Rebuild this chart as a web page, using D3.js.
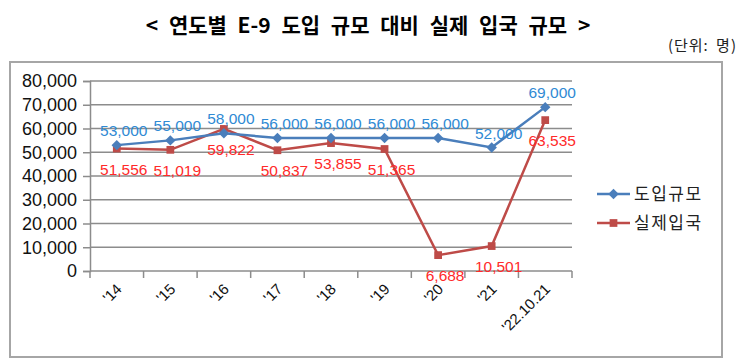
<!DOCTYPE html>
<html>
<head>
<meta charset="utf-8">
<script src="https://cdn.jsdelivr.net/npm/d3@7"></script>
<style>
  body { margin: 0; background: #fff; }
  svg { display: block; }
</style>
</head>
<body>
<div id="chart"></div>
<script>
let years = ["'14", "'15", "'16", "'17", "'18", "'19", "'20", "'21", "'22.10.21"];
let planned = [53000, 55000, 58000, 56000, 56000, 56000, 56000, 52000, 69000];
let actual = [51556, 51019, 59822, 50837, 53855, 51365, 6688, 10501, 63535];
let seriesNames = ["도입규모", "실제입국"];
let yTicks = [0, 10000, 20000, 30000, 40000, 50000, 60000, 70000, 80000];

let width = 745, height = 364;
let plotLeft = 90, plotRight = 572, plotTop = 81, plotBottom = 271;
let blue = "#4a7ebb", red = "#be4b48";
let blueText = "#2f8ad4", redText = "#ff2a2a";
let numFont = "'Liberation Sans', Arial, sans-serif";
let krFont = "'Noto Sans CJK KR', 'Noto Sans', sans-serif";

let svg = d3.select("#chart").append("svg")
    .attr("width", width)
    .attr("height", height);

// title + unit
svg.append("text")
    .attr("x", 368).attr("y", 33)
    .attr("text-anchor", "middle")
    .style("font-family", krFont)
    .style("font-weight", "bold")
    .style("font-size", "21px")
    .style("word-spacing", "6px")
    .text("< 연도별 E-9 도입 규모 대비 실제 입국 규모 >");

svg.append("text")
    .attr("x", 737).attr("y", 51)
    .attr("text-anchor", "end")
    .style("font-family", krFont)
    .style("font-size", "15px")
    .style("letter-spacing", "1px")
    .style("word-spacing", "3px")
    .style("fill", "#222")
    .text("(단위: 명)");

// outer frame
svg.append("rect")
    .attr("x", 10).attr("y", 62)
    .attr("width", 712).attr("height", 295)
    .style("fill", "none")
    .style("stroke", "#a6a6a6")
    .style("stroke-width", 2);

let x = d3.scaleBand().domain(years).range([plotLeft, plotRight]);
let y = d3.scaleLinear().domain([0, 80000]).range([plotBottom, plotTop]);
let cx = d => x(d) + x.bandwidth() / 2;

// gridlines
svg.selectAll("line.grid")
    .data(yTicks.slice(1))
    .enter().append("line")
    .attr("class", "grid")
    .attr("x1", plotLeft).attr("x2", plotRight)
    .attr("y1", d => y(d)).attr("y2", d => y(d))
    .style("stroke", "#8c8c8c")
    .style("stroke-width", 1.5);

// y axis
let yAxis = svg.append("g")
    .attr("transform", `translate(${plotLeft},0)`)
    .call(d3.axisLeft(y).tickValues(yTicks).tickSize(7).tickPadding(6).tickFormat(d3.format(",")));
yAxis.selectAll("path, line").style("stroke", "#8c8c8c").style("stroke-width", 1.5);
yAxis.selectAll("text")
    .style("font-family", numFont)
    .style("font-size", "18px")
    .style("fill", "#111");

// x axis with ticks between categories
let xAxis = svg.append("g")
    .attr("transform", `translate(0,${plotBottom})`);
xAxis.append("line")
    .attr("x1", plotLeft).attr("x2", plotRight)
    .style("stroke", "#8c8c8c").style("stroke-width", 1.5);
xAxis.selectAll("line.tick")
    .data(years.concat(["end"]))
    .enter().append("line")
    .attr("class", "tick")
    .attr("x1", (d, i) => plotLeft + i * x.step())
    .attr("x2", (d, i) => plotLeft + i * x.step())
    .attr("y1", 0).attr("y2", 7)
    .style("stroke", "#8c8c8c").style("stroke-width", 1.5);
xAxis.selectAll("text")
    .data(years)
    .enter().append("text")
    .attr("text-anchor", "end")
    .attr("transform", d => `translate(${cx(d) + 6},${19}) rotate(-45)`)
    .style("font-family", numFont)
    .style("font-size", "15px")
    .style("fill", "#111")
    .text(d => d);

// lines
let lineGen = vals => d3.line().x((v, i) => cx(years[i])).y(v => y(v))(vals);

svg.append("path")
    .attr("d", lineGen(actual))
    .style("fill", "none").style("stroke", red).style("stroke-width", 2.5);
svg.append("path")
    .attr("d", lineGen(planned))
    .style("fill", "none").style("stroke", blue).style("stroke-width", 2.5);

let diamond = d3.symbol().type(d3.symbolDiamond2).size(70);
let square = d3.symbol().type(d3.symbolSquare).size(60);

svg.selectAll("path.sq")
    .data(actual)
    .enter().append("path")
    .attr("class", "sq")
    .attr("d", square)
    .attr("transform", (v, i) => `translate(${cx(years[i])},${y(v)})`)
    .style("fill", red);

svg.selectAll("path.dm")
    .data(planned)
    .enter().append("path")
    .attr("class", "dm")
    .attr("d", diamond)
    .attr("transform", (v, i) => `translate(${cx(years[i])},${y(v)})`)
    .style("fill", blue);

// data labels
svg.selectAll("text.lblA")
    .data(actual)
    .enter().append("text")
    .attr("class", "lblA")
    .attr("x", (v, i) => cx(years[i]) + 7)
    .attr("y", v => y(v) + 26)
    .attr("text-anchor", "middle")
    .style("font-family", numFont)
    .style("font-size", "15.5px")
    .style("fill", redText)
    .text(d3.format(","));

svg.selectAll("text.lblP")
    .data(planned)
    .enter().append("text")
    .attr("class", "lblP")
    .attr("x", (v, i) => cx(years[i]) + 7)
    .attr("y", v => y(v) - 9)
    .attr("text-anchor", "middle")
    .style("font-family", numFont)
    .style("font-size", "15.5px")
    .style("fill", blueText)
    .text(d3.format(","));

// legend
let legend = svg.selectAll("g.legend")
    .data(seriesNames)
    .enter().append("g")
    .attr("class", "legend")
    .attr("transform", (d, i) => `translate(597,${194 + i * 29})`);
legend.append("line")
    .attr("x1", 0).attr("x2", 33)
    .style("stroke", (d, i) => i === 0 ? blue : red)
    .style("stroke-width", 2.5);
legend.append("path")
    .attr("d", (d, i) => i === 0 ? diamond() : square())
    .attr("transform", "translate(16.5,0)")
    .style("fill", (d, i) => i === 0 ? blue : red);
legend.append("text")
    .attr("x", 37).attr("y", 6)
    .style("font-family", krFont)
    .style("font-size", "17px")
    .style("letter-spacing", "1.5px")
    .style("fill", "#222")
    .text(d => d);
</script>
</body>
</html>
